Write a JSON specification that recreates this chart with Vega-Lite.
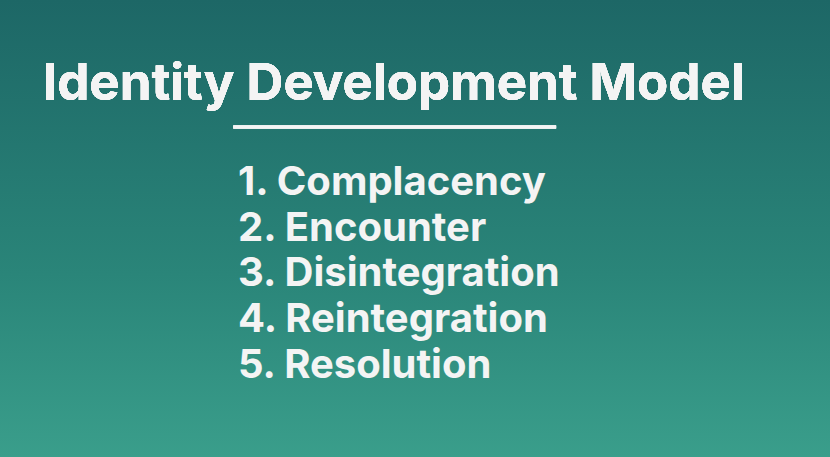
{
  "$schema": "https://vega.github.io/schema/vega-lite/v6.json",
  "autosize": {"type": "none"},
  "width": 830,
  "height": 457,
  "padding": 0,
  "background": "#2b8079",
  "config": {
    "view": {
      "stroke": null,
      "fill": {
        "gradient": "linear", "x1": 0, "y1": 0, "x2": 0, "y2": 1,
        "stops": [
          {"offset": 0, "color": "#1d6766"},
          {"offset": 0.6, "color": "#2a8579"},
          {"offset": 1, "color": "#3a9e8b"}
        ]
      }
    }
  },
  "data": {
    "values": [
      {"row": 1, "label": "1.  Complacency"},
      {"row": 2, "label": "2. Encounter"},
      {"row": 3, "label": "3. Disintegration"},
      {"row": 4, "label": "4. Reintegration"},
      {"row": 5, "label": "5. Resolution"}
    ]
  },
  "layer": [
    {
      "mark": {"type": "text", "align": "left", "baseline": "middle", "font": "Inter", "fontWeight": "bold", "fontSize": 40, "letterSpacing": -0.5, "color": "#f4f4f4"},
      "encoding": {
        "x": {"datum": 258, "type": "quantitative", "scale": {"domain": [0, 830]}, "axis": null},
        "y": {"field": "row", "type": "quantitative", "scale": {"domain": [-2.58, 6.125], "reverse": true}, "axis": null},
        "text": {"field": "label"}
      }
    },
    {
      "mark": {"type": "text", "align": "center", "baseline": "middle", "font": "Inter", "fontWeight": "bold", "fontSize": 51, "color": "#f4f4f4"},
      "encoding": {
        "x": {"datum": 427, "type": "quantitative"},
        "y": {"datum": -1.15, "type": "quantitative"},
        "text": {"value": "Identity Development Model"}
      }
    },
    {
      "mark": {"type": "rule", "color": "#f4f4f4", "strokeWidth": 3},
      "encoding": {
        "x": {"datum": 253, "type": "quantitative"},
        "x2": {"datum": 603},
        "y": {"datum": -0.22, "type": "quantitative"}
      }
    }
  ]
}
